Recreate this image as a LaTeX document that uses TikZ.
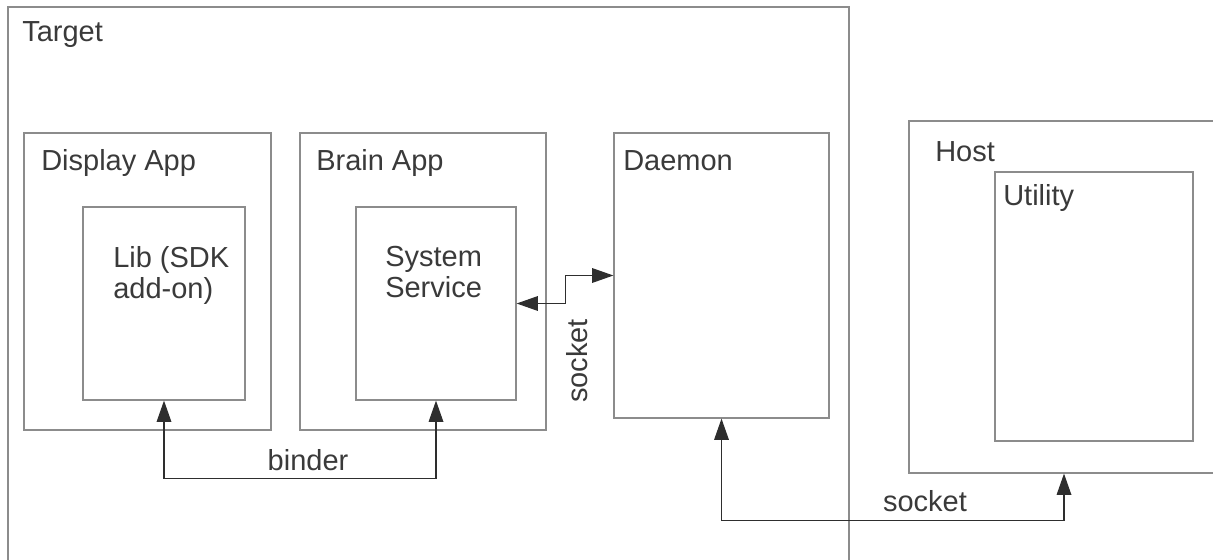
\documentclass[tikz,border=0pt]{standalone}
\usepackage{fontspec}
\setmainfont{Liberation Sans}
\usepackage{xcolor}
\usepackage{tikz}
\usetikzlibrary{arrows.meta,positioning}
\definecolor{boxgray}{HTML}{8C8C8C}
\definecolor{textgray}{HTML}{3A3A3A}
\definecolor{linegray}{HTML}{2E2E2E}

\begin{document}
\begin{tikzpicture}[x=0.75pt,y=-0.75pt,
  box/.style={draw=boxgray,line width=0.9pt,rectangle,inner sep=0pt},
  title/.style={text=textgray,inner sep=0pt,anchor=base west,
    font=\fontsize{21.75}{23.5}\selectfont},
  body/.style={title,anchor=north west,align=left},
  conn/.style={draw=linegray,line width=0.9pt,
    {Triangle[length=16pt,width=11pt]}-{Triangle[length=16pt,width=11pt]}}]
\useasboundingbox (0,0) rectangle (1213,560);
% boxes
\node[box,minimum width=841*0.75pt,minimum height=568*0.75pt] (target) at (428.5,291) {};
\node[box,minimum width=247*0.75pt,minimum height=297*0.75pt] (display) at (147.5,281.5) {};
\node[box,minimum width=162*0.75pt,minimum height=193*0.75pt] (lib) at (164,303.5) {};
\node[box,minimum width=246*0.75pt,minimum height=297*0.75pt] (brain) at (423,281.5) {};
\node[box,minimum width=160*0.75pt,minimum height=193*0.75pt] (service) at (436,303.5) {};
\node[box,minimum width=215*0.75pt,minimum height=285*0.75pt] (daemon) at (721.5,275.5) {};
\node[box,minimum width=310*0.75pt,minimum height=352*0.75pt] (host) at (1064,297) {};
\node[box,minimum width=198*0.75pt,minimum height=269*0.75pt] (utility) at (1094,306.5) {};
% titles
\node[title] (targettxt) at (22,42) {Target};
\node[title] (displaytxt) at (41,170) {Display App};
\node[title] (braintxt) at (316,170) {Brain App};
\node[title] (daemontxt) at (623,170) {Daemon};
\node[title] (hosttxt) at (935,161) {Host};
\node[title] (utilitytxt) at (1003,205) {Utility};
\node[body] (libtxt) at (113,246) {Lib (SDK\\add-on)};
\node[body] (servicetxt) at (385,246) {System\\Service};
% connectors
\draw[conn] (lib.south) -- ++(0,78) -| (service.south);
\draw[conn] (service.east) -- ++(49,0) |- (daemon.west);
\draw[conn] (daemon.south) -- ++(0,102) -| (host.south);
\node[title,anchor=base] (binder) at (308,470) {binder};
\node[title,anchor=base,rotate=90] (socketa) at (587,361) {socket};
\node[title,anchor=base] (socketb) at (925,511) {socket};
\end{tikzpicture}
\end{document}
